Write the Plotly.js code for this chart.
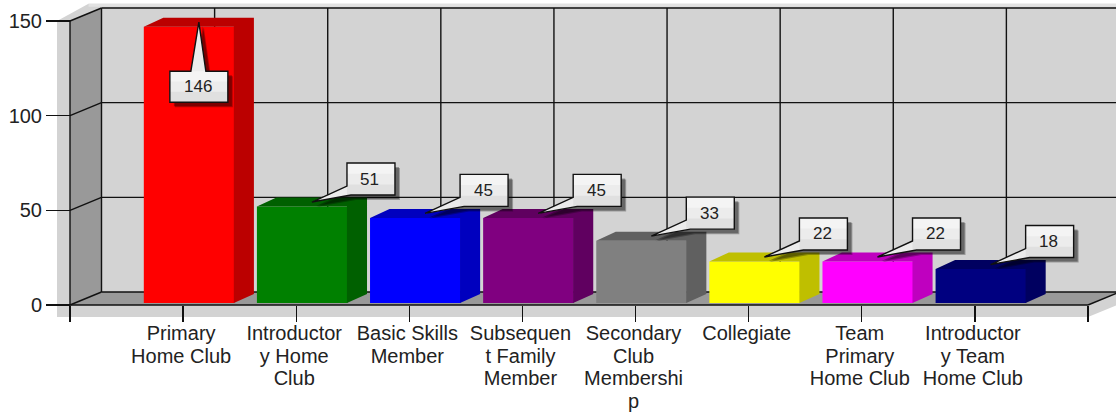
<!DOCTYPE html>
<html>
<head>
<meta charset="utf-8">
<script src="https://cdn.plot.ly/plotly-3.0.1.min.js"></script>
<style>html,body{margin:0;padding:0;background:#fff;overflow:hidden}#chart{width:1116px;height:412px}</style>
</head>
<body>
<div id="chart"></div>
<script>
const categories = ["Primary<br>Home Club","Introductor<br>y Home<br>Club","Basic Skills<br>Member","Subsequen<br>t Family<br>Member","Secondary<br>Club<br>Membershi<br>p","Collegiate","Team<br>Primary<br>Home Club","Introductor<br>y Team<br>Home Club"];
const values = [146,51,45,45,33,22,22,18];
const frontColors = ["#ff0000","#008000","#0000ff","#800080","#808080","#ffff00","#ff00ff","#000080"];
const sideColors = ["#bb0000","#006000","#0000bf","#600060","#606060","#bfbf00","#bf00bf","#000060"];
const yTicks = [0,50,100,150];

const W = 1116, H = 412;
const PX = 113.11, PY = 1.8933;         // px per data unit
const LEFT = 70, BASE = 305;
const xRange = [-LEFT/PX, (W-LEFT)/PX];
const yRange = [(BASE-H)/PY, BASE/PY];
const xEnd = categories.length + 1;
const wdx = 31.5/PX, wdy = 13/PY;       // wall depth
const bdx = 19.5/PX, bdy = 9/PY;        // bar depth
const bw = 90.6/PX, bx = 6/PX, bb = 1;  // bar width, offset, base
const sx = 13/PX, sy = 12/PY;           // frame strip
const seam = 0.6/PX;
const yMax = yTicks[yTicks.length-1];

const shapes = [];
const poly = (pts, fill, layer) => shapes.push({type:'path', layer:layer||'below', xref:'x', yref:'y', fillcolor:fill, line:{width:0},
  path:'M'+pts.map(p=>p[0]+','+p[1]).join('L')+'Z'});
const seg = (x0,y0,x1,y1,w,c) => shapes.push({type:'line', layer:'below', xref:'x', yref:'y', x0,y0,x1,y1, line:{color:c||'#111',width:w||1.4}});

// frame, walls and floor
const topBand = yMax + wdy;
poly([[-sx,yMax],[-sx,-sy],[xEnd,-sy],[xEnd+wdx,-sy+wdy],[xEnd+wdx,topBand+2.2],[wdx-sx,topBand+2.2]], '#d3d3d3');
poly([[wdx-sx,topBand+2.2],[xEnd+wdx,topBand+2.2],[xEnd+wdx,topBand+0.6],[wdx-sx,topBand+0.6]], '#e2e2e2');
poly([[0,0],[wdx,wdy],[wdx,topBand],[0,yMax]], '#999999');
poly([[0,0],[xEnd,0],[xEnd+wdx,wdy],[wdx,wdy]], '#999999');
// grid on the back wall and side wall
yTicks.forEach(t => { seg(wdx,t+wdy,xEnd+wdx,t+wdy); seg(0,t,wdx,t+wdy); });
for (let i=0;i<=xEnd;i++) seg(wdx+i,wdy,wdx+i,topBand);
seg(0,0,0,yMax); seg(0,0,xEnd,0); seg(xEnd,0,xEnd+wdx,wdy);

// bars: front faces
const barX = values.map((v,i)=>i+1+bx);
const traces = [{type:'bar', x:barX, y:values, base:values.map(()=>bb), width:values.map(()=>bw),
  marker:{color:frontColors, line:{width:0}}, hoverinfo:'skip', showlegend:false}];
// bars: top and side faces
values.forEach((v,i)=>{
  const x0 = barX[i]-bw/2, x1 = barX[i]+bw/2, top = v+bb;
  traces.push({type:'scatter', mode:'lines', fill:'toself', fillcolor:sideColors[i], line:{width:0}, hoverinfo:'skip', showlegend:false,
    x:[x0,x0+bdx,x1+bdx,x1+bdx,x1-seam,x1-seam,x0], y:[top,top+bdy,top+bdy,bb+bdy,bb,top,top]});
});

// callouts
const annotations = [];
values.forEach((v,i)=>{
  const tipX = barX[i]+bdx/2, tipY = v+bb+bdy/2;
  const below = v>100;
  const outline = below
    ? [[0,0],[7,-49],[29,-49],[29,-80],[-29,-80],[-29,-49],[-8,-49]]
    : [[0,0],[35,16],[35,39],[83,39],[83,7],[39,7]];
  const box = below ? {l:-29,r:29,t:-49,b:-80} : {l:35,r:83,t:39,b:7};
  const pathOf = (pts,d) => 'M'+pts.map(p=>(p[0]+d)+','+(p[1]-d)).join('L')+'Z';
  const base = {type:'path', layer:'above', xref:'x', yref:'y', xsizemode:'pixel', ysizemode:'pixel', xanchor:tipX, yanchor:tipY};
  shapes.push(Object.assign({},base,{path:pathOf(outline,5), fillcolor:'rgba(0,0,0,0.28)', line:{width:0}}));
  shapes.push(Object.assign({},base,{path:pathOf(outline,4), fillcolor:'rgba(0,0,0,0.32)', line:{width:0}}));
  shapes.push(Object.assign({},base,{path:pathOf(outline,0), fillcolor:'#ececec', line:{width:0}}));
  const h = box.t-box.b;
  shapes.push(Object.assign({},base,{type:'rect',path:undefined,x0:box.l,x1:box.r,y0:box.t,y1:box.t-h/3,fillcolor:'#f4f4f4',line:{width:0}}));
  shapes.push(Object.assign({},base,{type:'rect',path:undefined,x0:box.l,x1:box.r,y0:box.b,y1:box.b+h/3,fillcolor:'#e0e0e0',line:{width:0}}));
  shapes.push(Object.assign({},base,{path:pathOf(outline,0), fillcolor:'rgba(0,0,0,0)', line:{color:'#111',width:1.4}}));
  annotations.push({xref:'x', yref:'y', x:tipX, y:tipY, text:String(v), showarrow:false,
    xshift:(box.l+box.r)/2-1, yshift:(box.t+box.b)/2, font:{family:'"Liberation Sans",Arial,sans-serif', size:17, color:'#222'}});
});

const tickVals = [];
for (let i=0;i<=xEnd;i++) tickVals.push(i);
const layout = {
  width:W, height:H, margin:{l:0,r:0,t:0,b:0}, paper_bgcolor:'#fff', plot_bgcolor:'rgba(0,0,0,0)',
  showlegend:false, hovermode:false, barmode:'overlay',
  xaxis:{range:xRange, domain:[0,1], anchor:'free', position:(H-BASE)/H, showgrid:false, zeroline:false, showline:false,
    tickmode:'array', tickvals:tickVals, ticktext:[''].concat(categories,['']), ticks:'outside', ticklen:16, tickwidth:1.4, tickcolor:'#111', tickangle:0,
    ticklabelstandoff:-6, ticklabelshift:-2,
    tickfont:{family:'"Liberation Sans",Arial,sans-serif', size:20, color:'#222'}, fixedrange:true},
  yaxis:{range:yRange, domain:[0,1], anchor:'free', position:LEFT/W, showgrid:false, zeroline:false, showline:false,
    tickmode:'array', tickvals:yTicks, ticktext:yTicks.map(String), ticks:'outside', ticklen:24, tickwidth:1.4, tickcolor:'#111',
    tickfont:{family:'"Liberation Sans",Arial,sans-serif', size:20, color:'#222'}, fixedrange:true},
  shapes, annotations
};
Plotly.newPlot('chart', traces, layout, {displayModeBar:false, staticPlot:true}).then(()=>{
  document.querySelectorAll('.xtick text tspan.line').forEach(t=>{
    const n = parseFloat(t.getAttribute('dy'));
    if (n) t.setAttribute('dy', (n/1.3*1.13)+'em');
  });
});
</script>
</body>
</html>
